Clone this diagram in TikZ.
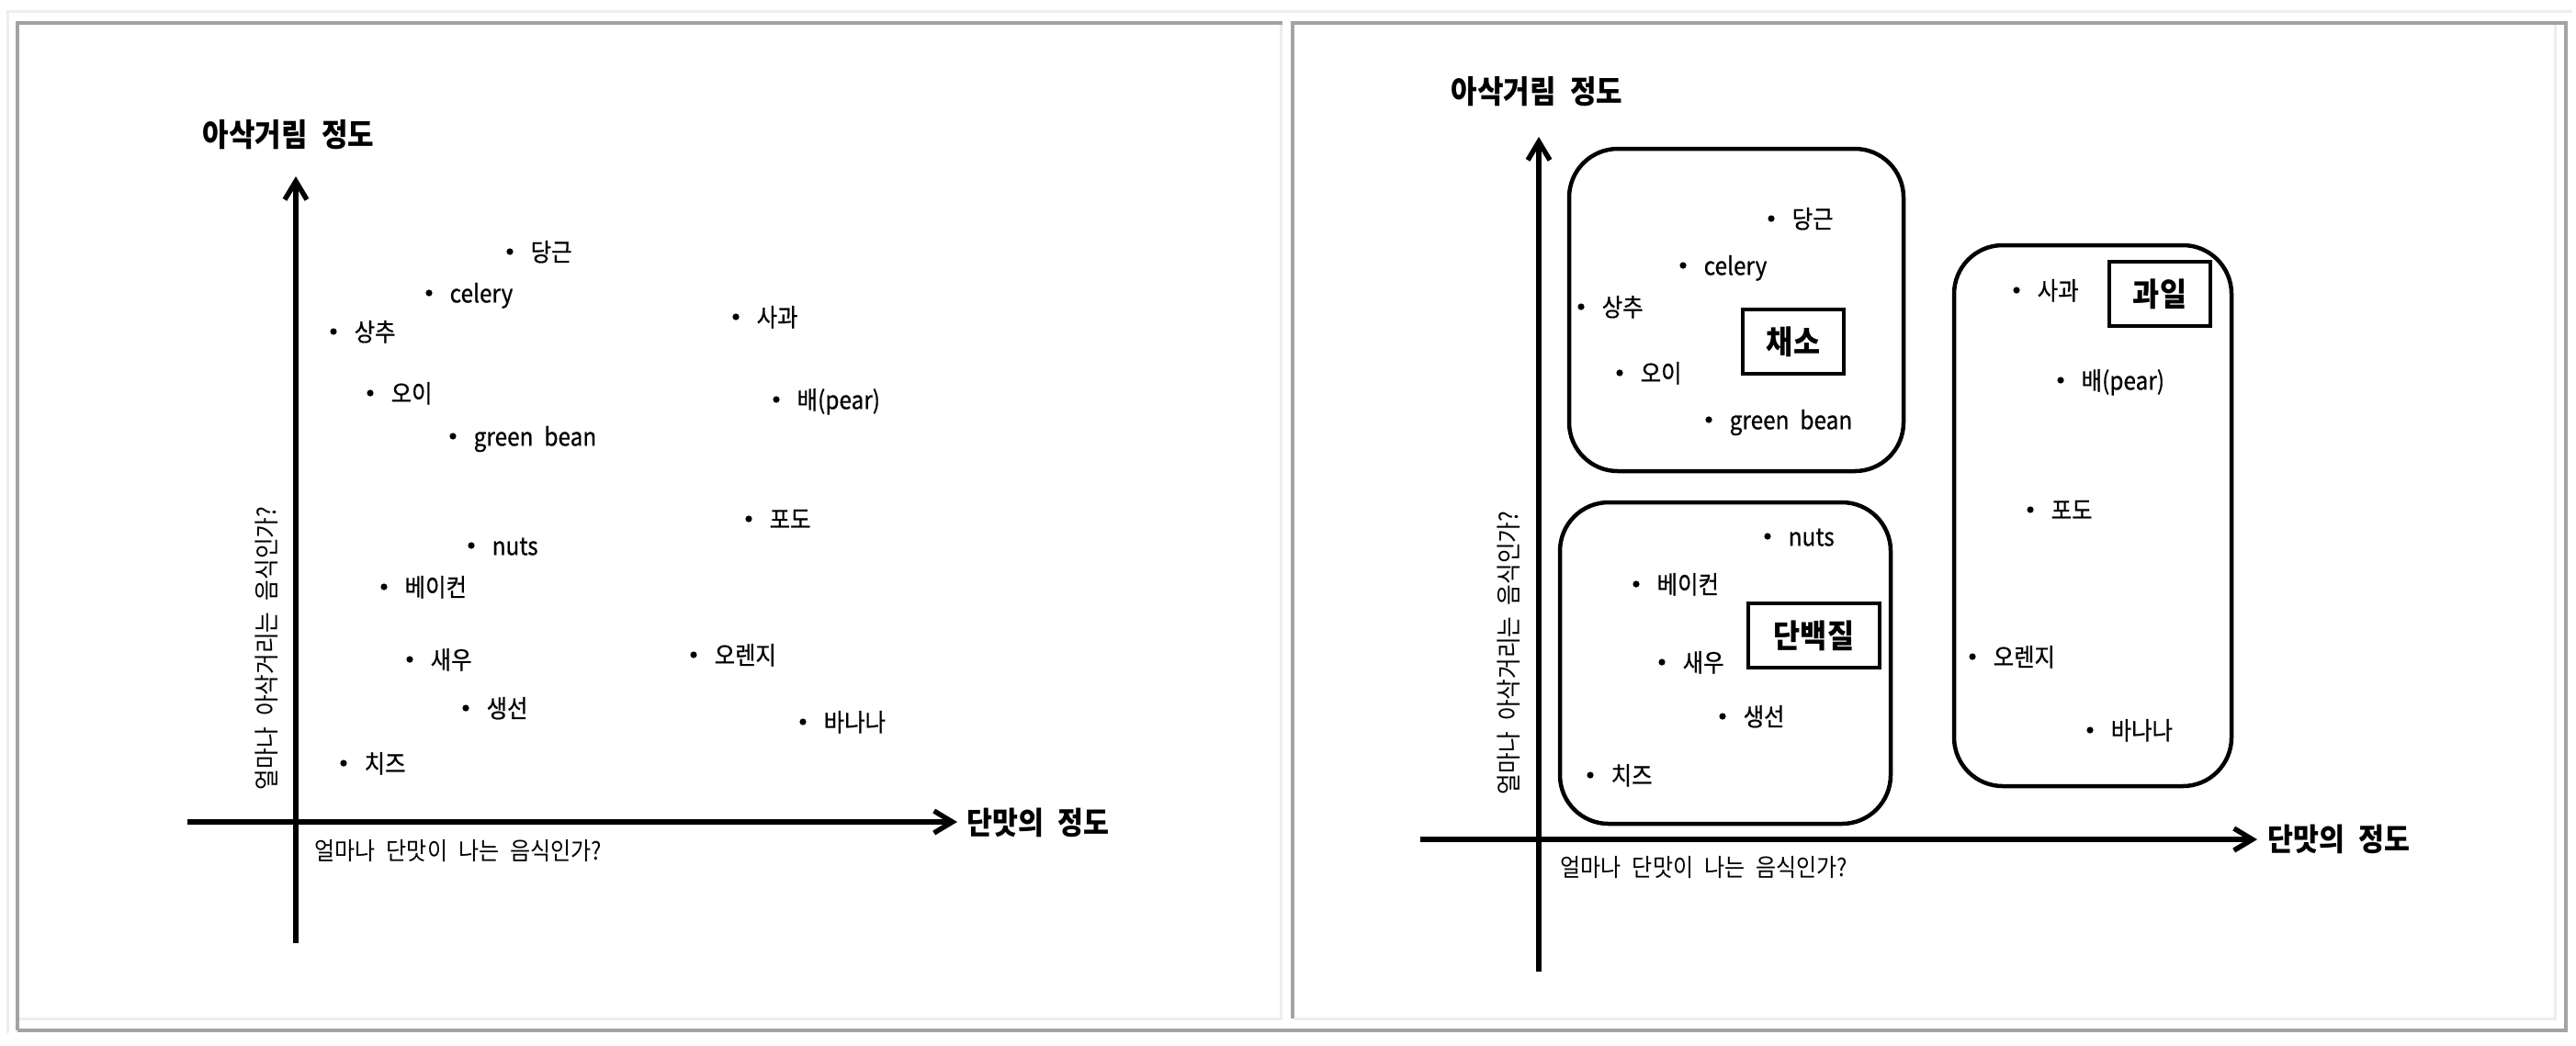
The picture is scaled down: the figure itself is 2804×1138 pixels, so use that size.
\documentclass[tikz,border=0pt]{standalone}
\usepackage{fontspec}
\setmainfont[FakeStretch=0.9,WordSpace=2.2]{Noto Sans CJK KR}
\newfontfamily\itemfont[FakeStretch=0.9,WordSpace=2.2,FakeBold=0.6]{Noto Sans CJK KR}
\usetikzlibrary{arrows.meta}
\definecolor{fdark}{HTML}{A3A3A3}
\definecolor{flight}{HTML}{EDEDED}
\tikzset{
  framed/.style={draw=fdark,line width=0.35mm},
  framel/.style={draw=flight,line width=0.3mm},
  axis/.style={line width=0.55mm,-{Straight Barb[length=2mm,width=2.4mm]}},
  item/.style={anchor=west,inner sep=0pt,font=\itemfont\fontsize{7.7pt}{9pt}\selectfont,text height=6.8pt,text depth=0.9pt},
  sublabel/.style={anchor=west,inner sep=0pt,font=\fontsize{7.6pt}{9pt}\selectfont},
  vlabel/.style={inner sep=0pt,rotate=90,font=\fontsize{7.8pt}{9pt}\selectfont},
  title/.style={inner sep=0pt,font=\fontsize{9.8pt}{11pt}\selectfont\bfseries},
  xtitle/.style={anchor=west,inner sep=0pt,font=\fontsize{9.6pt}{11pt}\selectfont\bfseries},
  group/.style={draw,line width=0.45mm,rounded corners=5.3mm},
  tag/.style={draw,line width=0.35mm,inner sep=0pt,font=\fontsize{10pt}{11pt}\selectfont\bfseries},
}
\newcommand\itm[4]{\fill (#2,#3) circle[radius=0.36mm]; \node[item] (#1) at (#2+22,#3) {#4};}
\begin{document}
\begin{tikzpicture}[x=0.1mm,y=-0.1mm]
\useasboundingbox (0,0) rectangle (2804,1138);
% frames
\draw[framel] (8,1125) -- (8,12) -- (2800,12);
\draw[framed] (19,1122) -- (19,25) -- (1396,25);
\draw[framel] (1394,27) -- (1394,1109) -- (21,1109);
\draw[framed] (1407,1109) -- (1407,25) -- (2793,25) -- (2793,1122) -- (19,1122);
\draw[framel] (2781,27) -- (2781,1109) -- (1409,1109);

% ===== left panel =====
\coordinate (LyB) at (322,1027);
\coordinate (LyT) at (322,192);
\coordinate (LxL) at (204,895);
\coordinate (LxR) at (1042,895);
\draw[axis] (LyB) -- (LyT);
\draw[axis] (LxL) -- (LxR);
\node[title] (Lt) at (314,147) {아삭거림 정도};
\node[xtitle] (Lxt) at (1052,896) {단맛의 정도};
\node[sublabel] (Lxs) at (342,926) {얼마나 단맛이 나는 음식인가?};
\node[vlabel] (Lys) at (290,706) {얼마나 아삭거리는 음식인가?};
\itm{L1}{555}{274}{당근}
\itm{L2}{467}{319}{celery}
\itm{L3}{363}{361}{상추}
\itm{L4}{801}{345}{사과}
\itm{L5}{403}{428}{오이}
\itm{L6}{845}{435}{배(pear)}
\itm{L7}{493}{475}{green bean}
\itm{L8}{815}{565}{포도}
\itm{L9}{513}{594}{nuts}
\itm{L10}{418}{639}{베이컨}
\itm{L11}{755}{713}{오렌지}
\itm{L12}{446}{718}{새우}
\itm{L13}{507}{771}{생선}
\itm{L14}{874}{786}{바나나}
\itm{L15}{374}{831}{치즈}

% ===== right panel =====
\coordinate (RyB) at (1675,1058);
\coordinate (RyT) at (1675,149);
\coordinate (RxL) at (1546,914);
\coordinate (RxR) at (2457,914);
\draw[axis] (RyB) -- (RyT);
\draw[axis] (RxL) -- (RxR);
\node[title] (Rt) at (1673,100) {아삭거림 정도};
\node[xtitle] (Rxt) at (2468,914) {단맛의 정도};
\node[sublabel] (Rxs) at (1698,944) {얼마나 단맛이 나는 음식인가?};
\node[vlabel] (Rys) at (1642,711) {얼마나 아삭거리는 음식인가?};

\draw[group] (1708,162) rectangle (2072,513);
\draw[group] (1698,547) rectangle (2058,897);
\draw[group] (2127,267) rectangle (2429,856);
\node[tag,minimum width=11mm,minimum height=7mm] (Tveg) at (1952,372) {채소};
\node[tag,minimum width=14.3mm,minimum height=7mm] (Tpro) at (1974.5,692) {단백질};
\node[tag,minimum width=11mm,minimum height=7mm] (Tfru) at (2351,320) {과일};

\itm{R1}{1928}{238}{당근}
\itm{R2}{1832}{289}{celery}
\itm{R3}{1721}{334}{상추}
\itm{R4}{1763}{406}{오이}
\itm{R5}{1860}{457}{green bean}
\itm{R6}{1924}{584}{nuts}
\itm{R7}{1781}{636}{베이컨}
\itm{R8}{1809}{721}{새우}
\itm{R9}{1875}{780}{생선}
\itm{R10}{1731}{844}{치즈}
\itm{R11}{2195}{316}{사과}
\itm{R12}{2243}{414}{배(pear)}
\itm{R13}{2210}{555}{포도}
\itm{R14}{2147}{715}{오렌지}
\itm{R15}{2275}{795}{바나나}
\end{tikzpicture}
\end{document}
